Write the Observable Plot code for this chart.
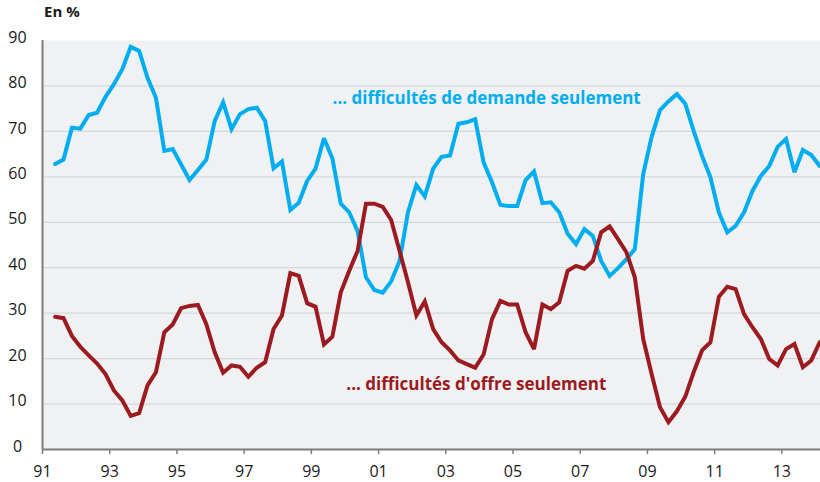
<!DOCTYPE html>
<html><head><meta charset="utf-8">
<script src="https://cdn.jsdelivr.net/npm/d3@7"></script>
<script src="https://cdn.jsdelivr.net/npm/@observablehq/plot@0.6"></script>
<style>
body{margin:0;background:#fff;font-family:"Open Sans",sans-serif;}
#wrap{position:relative;width:820px;height:482px;}
#unit{position:absolute;left:44px;top:1px;font-weight:bold;font-size:15px;color:#1a1a1a;}
#chart{position:absolute;left:0;top:0;}
</style></head><body>
<div id="wrap"><div id="chart"></div><div id="unit">En %</div></div>
<script>
// Quarterly series, first observation 1991 Q2
const startYear = 1991, startQuarter = 2;
const demande = [62.8,63.8,70.8,70.6,73.6,74.1,77.6,80.4,83.7,88.6,
  87.7,81.8,77.4,65.7,66.1,62.7,59.3,61.5,63.8,72.3,
  76.4,70.5,73.8,74.9,75.2,72.3,61.9,63.4,52.7,54.3,
  59.1,61.8,68.5,64.1,54.1,52.2,48.1,37.9,35.1,34.5,
  37.0,41.5,52.2,58.2,55.7,61.8,64.4,64.7,71.7,72.0,
  72.7,63.2,58.8,53.8,53.6,53.6,59.3,61.2,54.2,54.4,
  52.2,47.5,45.2,48.5,47.0,41.5,38.2,39.9,41.9,44.1,
  60.6,68.8,74.7,76.6,78.2,76.1,70.1,64.6,59.9,52.2,
  47.8,49.2,52.2,56.9,60.2,62.4,66.6,68.3,61.0,65.9,
  64.8,62.4];
const offre = [29.2,28.9,25.0,22.6,20.7,18.9,16.6,13.0,10.8,7.4,
  8.0,14.1,17.0,25.8,27.5,31.1,31.6,31.8,27.6,21.4,
  16.9,18.5,18.2,16.0,18.0,19.2,26.5,29.5,38.8,38.2,
  32.2,31.4,23.1,24.8,34.6,39.3,43.7,54.1,54.1,53.4,
  50.5,43.7,36.8,29.5,32.6,26.5,23.6,21.8,19.6,18.8,
  18.0,20.9,28.7,32.7,31.9,31.9,25.8,22.1,31.9,30.9,
  32.4,39.3,40.4,39.8,41.5,47.8,49.1,46.3,43.4,37.9,
  24.3,16.6,9.3,6.0,8.4,11.6,17.0,21.8,23.6,33.6,
  35.8,35.3,29.8,26.9,24.3,19.9,18.5,22.1,23.2,18.1,
  19.6,23.6];
const seriesNames = ["demande", "offre"];
const seriesLabels = ["... difficultés de demande seulement", "... difficultés d'offre seulement"];
const labelYear = [1999.63, 2000.04];
const labelValue = [77.2, 14.2];
const colors = ["#00aeef", "#9b1b20"];
const xTicks = [1991,1993,1995,1997,1999,2001,2003,2005,2007,2009,2011,2013];
const xTickLabels = ["91","93","95","97","99","01","03","05","07","09","11","13"];
const yTicks = [0,10,20,30,40,50,60,70,80,90];

const when = i => startYear + (startQuarter - 1 + i) / 4 + 0.125;
const rows = [
  ...demande.map((v, i) => ({t: when(i), v, s: seriesNames[0]})),
  ...offre.map((v, i) => ({t: when(i), v, s: seriesNames[1]}))
];
const labels = seriesNames.map((s, k) => ({s, text: seriesLabels[k], t: labelYear[k], v: labelValue[k]}));
const fmtX = d => xTickLabels[xTicks.indexOf(d)];

const chart = Plot.plot({
  width: 820, height: 482,
  marginLeft: 42, marginRight: 0, marginTop: 40, marginBottom: 33,
  style: {fontFamily: "'Open Sans', sans-serif", fontSize: "16px", color: "#1a1a1a", background: "transparent"},
  x: {domain: [1991, 2014.15]},
  y: {domain: [0, 90]},
  color: {domain: seriesNames, range: colors},
  marks: [
    Plot.frame({fill: "#f0f1f3", stroke: null}),
    Plot.gridY(yTicks.filter(d => d > 0 && d < 90), {stroke: "#d6d7d9", strokeOpacity: 1, strokeWidth: 1.3}),
    Plot.axisY(yTicks, {tickSize: 0, tickPadding: 25, textAnchor: "middle", dy: -3, label: null, fill: "#1a1a1a"}),
    Plot.axisX(xTicks, {tickSize: 5, tickPadding: 11, tickFormat: fmtX, label: null, stroke: "#7d7d7d", strokeWidth: 1.5, fill: "#1a1a1a"}),
    Plot.ruleY([0], {stroke: "#7d7d7d", strokeWidth: 2}),
    Plot.ruleX([1991], {stroke: "#7d7d7d", strokeWidth: 2}),
    Plot.line(rows, {x: "t", y: "v", z: "s", stroke: "s", strokeWidth: 4, strokeLinejoin: "miter", strokeMiterlimit: 3, clip: true}),
    Plot.text(labels, {x: "t", y: "v", text: "text", fill: "s", textAnchor: "start", fontWeight: "bold", fontSize: 17})
  ]
});
document.getElementById("chart").appendChild(chart);
</script>
</body></html>
